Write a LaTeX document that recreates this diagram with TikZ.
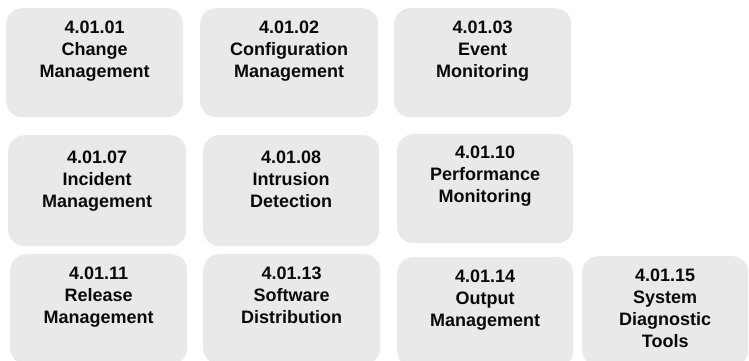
\documentclass[tikz,border=0pt]{standalone}
\usepackage{fontspec}
\setmainfont{Liberation Sans}
\definecolor{tilefill}{RGB}{232,233,233}
\definecolor{tiletext}{RGB}{10,10,10}
\tikzset{
  tile/.style={fill=tilefill, draw=none, rounded corners=16pt, inner sep=0pt,
    anchor=north west, text=tiletext, font=\bfseries\fontsize{18}{22}\selectfont}
}
% \tile[first baseline]{name}{left}{top}{width}{height}{text}
\newcommand\tile[7][25]{%
  \node[tile] (#2) at (#3,#4)
    {\parbox[t][#6pt][t]{#5pt}{\centering\rule{0pt}{#1pt}#7}};}
\begin{document}
\begin{tikzpicture}[x=1pt,y=-1pt]
  \useasboundingbox (0,0) rectangle (749,360);
  \clip (0,0) rectangle (749,360);
  % first row
  \tile{t0101}{6}{8}{177}{109}{4.01.01\\Change\\Management}
  \tile{t0102}{200}{8}{178}{109}{4.01.02\\Configuration\\Management}
  \tile{t0103}{394}{8}{177}{109}{4.01.03\\Event\\Monitoring}
  % second row
  \tile[28]{t0107}{8}{135}{178}{111}{4.01.07\\Incident\\Management}
  \tile[28]{t0108}{203}{135}{176}{111}{4.01.08\\Intrusion\\Detection}
  \tile[24]{t0110}{397}{134}{176}{109}{4.01.10\\Performance\\Monitoring}
  % third row
  \tile{t0111}{10}{254}{177}{110}{4.01.11\\Release\\Management}
  \tile{t0113}{203}{254}{177}{110}{4.01.13\\Software\\Distribution}
  \tile{t0114}{397}{257}{176}{110}{4.01.14\\Output\\Management}
  \tile{t0115}{582}{256}{166}{110}{4.01.15\\System\\Diagnostic\\Tools}
\end{tikzpicture}
\end{document}
